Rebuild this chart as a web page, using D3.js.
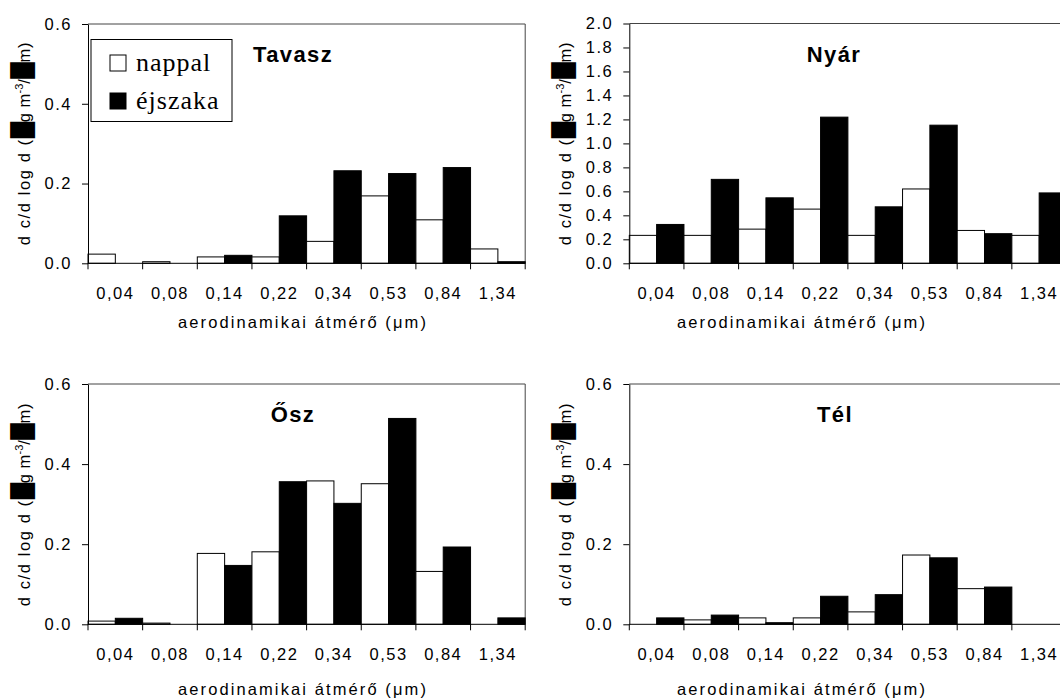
<!DOCTYPE html>
<html>
<head>
<meta charset="utf-8">
<script src="https://cdn.jsdelivr.net/npm/d3@7"></script>
<style>
  body { margin: 0; background: #fff; }
  svg { display: block; }
  text { font-family: "Liberation Sans", Arial, sans-serif; fill: #000; }
</style>
</head>
<body>
<svg id="chart" width="1060" height="700"></svg>
<script>
// Size classes (aerodynamic diameter, µm)
const categories = ["0,04", "0,08", "0,14", "0,22", "0,34", "0,53", "0,84", "1,34"];
const seriesNames = ["nappal", "éjszaka"];

// Seasonal size distributions, d c / d log d (µg m-3 / µm)
const tavaszNappal  = [0.023, 0.004, 0.016, 0.016, 0.055, 0.169, 0.109, 0.036];
const tavaszEjszaka = [0.000, 0.000, 0.020, 0.119, 0.232, 0.225, 0.240, 0.004];

const nyarNappal  = [0.233, 0.233, 0.285, 0.452, 0.233, 0.620, 0.274, 0.233];
const nyarEjszaka = [0.324, 0.700, 0.546, 1.219, 0.471, 1.152, 0.247, 0.587];

const oszNappal  = [0.008, 0.003, 0.177, 0.181, 0.358, 0.351, 0.132, 0.000];
const oszEjszaka = [0.015, 0.000, 0.147, 0.356, 0.302, 0.514, 0.193, 0.016];

const telNappal  = [0.000, 0.011, 0.016, 0.016, 0.031, 0.173, 0.089, 0.000];
const telEjszaka = [0.016, 0.023, 0.004, 0.070, 0.074, 0.166, 0.093, 0.000];

const smallTicks = [0, 0.2, 0.4, 0.6];
const nyarTicks  = [0, 0.2, 0.4, 0.6, 0.8, 1.0, 1.2, 1.4, 1.6, 1.8, 2.0];

const xTitle = "aerodinamikai átmérő (μm)";

// Panel layout
const bandW = 54.65;
const panels = [
  { title: "Tavasz", day: tavaszNappal, night: tavaszEjszaka, max: 0.6, ticks: smallTicks,
    left: 88,    top: 24,   bottom: 263.3, titleX: 293, xTitleX: 303, xTitleY: 328, legend: true },
  { title: "Nyár",   day: nyarNappal,   night: nyarEjszaka,   max: 2.0, ticks: nyarTicks,
    left: 629.3, top: 23.5, bottom: 263.3, titleX: 834, xTitleX: 802, xTitleY: 328, legend: false },
  { title: "Ősz",    day: oszNappal,    night: oszEjszaka,    max: 0.6, ticks: smallTicks,
    left: 88,    top: 384,  bottom: 624.3, titleX: 293, xTitleX: 303, xTitleY: 695, legend: false },
  { title: "Tél",    day: telNappal,    night: telEjszaka,    max: 0.6, ticks: smallTicks,
    left: 629.3, top: 384,  bottom: 624.3, titleX: 835, xTitleX: 802, xTitleY: 695, legend: false }
];

const svg = d3.select("#chart");

panels.forEach(p => {
  const g = svg.append("g");
  const right = p.left + bandW * categories.length;

  const x = d3.scaleBand().domain(categories).range([p.left, right]).padding(0);
  const xs = d3.scaleBand().domain(seriesNames).range([0, x.bandwidth()]).padding(0);
  const y = d3.scaleLinear().domain([0, p.max]).range([p.bottom, p.top]);

  // plot-area frame (top and right)
  g.append("path")
    .attr("d", `M${p.left},${p.top}H${right}V${p.bottom}`)
    .attr("fill", "none").attr("stroke", "#444").attr("stroke-width", 1);

  // bars
  const rows = categories.map((c, i) => ({ c, vals: [p.day[i], p.night[i]] }));
  const grp = g.selectAll("g.cat").data(rows).join("g")
    .attr("transform", d => `translate(${x(d.c)},0)`);
  grp.selectAll("rect")
    .data(d => d.vals.map((v, k) => ({ s: seriesNames[k], v })).filter(e => e.v > 0))
    .join("rect")
    .attr("x", e => xs(e.s))
    .attr("y", e => y(e.v))
    .attr("width", xs.bandwidth())
    .attr("height", e => y(0) - y(e.v))
    .attr("fill", e => e.s === "nappal" ? "#fff" : "#000")
    .attr("stroke", "#000").attr("stroke-width", 1);

  // y axis
  const ya = g.append("g").attr("transform", `translate(${p.left},0)`)
    .call(d3.axisLeft(y).tickValues(p.ticks).tickFormat(d3.format(".1f"))
      .tickSize(6).tickSizeOuter(0).tickPadding(10));
  ya.selectAll("text").style("font-size", "16.5px").attr("letter-spacing", "1.5px");
  ya.select(".domain").attr("stroke", "#000");

  // x axis: labels centred in each class, ticks on class boundaries
  const xa = g.append("g").attr("transform", `translate(0,${p.bottom})`)
    .call(d3.axisBottom(x).tickSize(0).tickPadding(24));
  xa.selectAll("text").style("font-size", "16.5px").attr("letter-spacing", "1.5px");
  xa.select(".domain").attr("d", `M${p.left},0H${right}`).attr("stroke", "#000");
  const bounds = categories.map(c => x(c)).concat([right]);
  xa.selectAll("line.bound").data(bounds).join("line").attr("class", "bound")
    .attr("x1", d => d).attr("x2", d => d).attr("y1", 0).attr("y2", 6)
    .attr("stroke", "#000");

  // panel title
  g.append("text").attr("x", p.titleX).attr("y", p.top + 38)
    .attr("text-anchor", "middle")
    .style("font-size", "22px").style("font-weight", "bold").attr("letter-spacing", "1.4px")
    .text(p.title);

  // x axis title
  g.append("text").attr("x", p.xTitleX).attr("y", p.xTitleY)
    .attr("text-anchor", "middle")
    .style("font-size", "16.5px").attr("letter-spacing", "2.1px")
    .text(xTitle);

  // y axis title (µ signs shown as solid blocks)
  const yt = g.append("text")
    .attr("transform", `translate(${p.left - 58},${p.bottom - 18}) rotate(-90)`)
    .attr("text-anchor", "start")
    .style("font-size", "16.5px");
  yt.append("tspan").attr("letter-spacing", "1.6px").text("d c/d log d (");
  yt.append("tspan").style("font-family", "DejaVu Sans").style("font-size", "21px").text("█");
  yt.append("tspan").attr("letter-spacing", "0.4px").text("g m");
  yt.append("tspan").attr("dy", -7).style("font-size", "11px").text("-3");
  yt.append("tspan").attr("dy", 7).attr("letter-spacing", "0.4px").text("/");
  yt.append("tspan").style("font-family", "DejaVu Sans").style("font-size", "21px").text("█");
  yt.append("tspan").attr("letter-spacing", "0.8px").text("m)");

  // legend
  if (p.legend) {
    const lg = g.append("g");
    lg.append("rect").attr("x", 91).attr("y", 39.5).attr("width", 141).attr("height", 82)
      .attr("fill", "#fff").attr("stroke", "#000").attr("stroke-width", 1);
    const items = lg.selectAll("g.item").data(seriesNames).join("g").attr("class", "item")
      .attr("transform", (d, i) => `translate(110,${55 + i * 38})`);
    items.append("rect").attr("width", 16).attr("height", 16)
      .attr("fill", d => d === "nappal" ? "#fff" : "#000").attr("stroke", "#000");
    items.append("text").attr("x", 26).attr("y", 16)
      .style("font-family", "'Liberation Serif', 'Times New Roman', serif")
      .style("font-size", "26px").attr("letter-spacing", "1px")
      .text(d => d);
  }
});
</script>
</body>
</html>
